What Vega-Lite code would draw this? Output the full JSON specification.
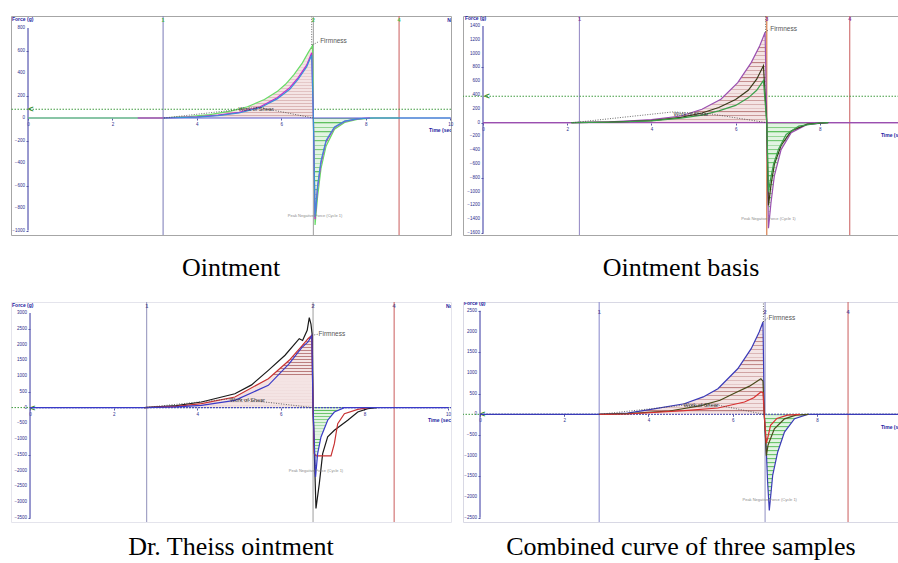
{
"$schema": "https://vega.github.io/schema/vega-lite/v6.json",
"padding": {"left": 10, "top": 14, "right": 0, "bottom": 0},
"background": "white",
"bounds": "flush",
"columns": 2,
"spacing": {"row": 67, "column": 12},
"params": [
  {"name": "posGrad", "value": {"gradient": "linear", "x1": 0, "y1": 0, "x2": 0, "y2": 1, "stops": [
      {"offset":0,"color":"#b97a7a"},{"offset":0.014,"color":"#f4e4e4"},{"offset":0.0417,"color":"#f4e4e4"},
      {"offset":0.0417,"color":"#b97a7a"},{"offset":0.0557,"color":"#f4e4e4"},{"offset":0.0833,"color":"#f4e4e4"},
      {"offset":0.0833,"color":"#b97a7a"},{"offset":0.0973,"color":"#f4e4e4"},{"offset":0.125,"color":"#f4e4e4"},
      {"offset":0.125,"color":"#b97a7a"},{"offset":0.139,"color":"#f4e4e4"},{"offset":0.1667,"color":"#f4e4e4"},
      {"offset":0.1667,"color":"#b97a7a"},{"offset":0.1807,"color":"#f4e4e4"},{"offset":0.2083,"color":"#f4e4e4"},
      {"offset":0.2083,"color":"#b97a7a"},{"offset":0.2223,"color":"#f4e4e4"},{"offset":0.25,"color":"#f4e4e4"},
      {"offset":0.25,"color":"#b97a7a"},{"offset":0.264,"color":"#f4e4e4"},{"offset":0.2917,"color":"#f4e4e4"},
      {"offset":0.2917,"color":"#b97a7a"},{"offset":0.3057,"color":"#f4e4e4"},{"offset":0.3333,"color":"#f4e4e4"},
      {"offset":0.3333,"color":"#b97a7a"},{"offset":0.3473,"color":"#f4e4e4"},{"offset":0.375,"color":"#f4e4e4"},
      {"offset":0.375,"color":"#b97a7a"},{"offset":0.389,"color":"#f4e4e4"},{"offset":0.4167,"color":"#f4e4e4"},
      {"offset":0.4167,"color":"#b97a7a"},{"offset":0.4307,"color":"#f4e4e4"},{"offset":0.4583,"color":"#f4e4e4"},
      {"offset":0.4583,"color":"#b97a7a"},{"offset":0.4723,"color":"#f4e4e4"},{"offset":0.5,"color":"#f4e4e4"},
      {"offset":0.5,"color":"#b97a7a"},{"offset":0.514,"color":"#f4e4e4"},{"offset":0.5417,"color":"#f4e4e4"},
      {"offset":0.5417,"color":"#b97a7a"},{"offset":0.5557,"color":"#f4e4e4"},{"offset":0.5833,"color":"#f4e4e4"},
      {"offset":0.5833,"color":"#b97a7a"},{"offset":0.5973,"color":"#f4e4e4"},{"offset":0.625,"color":"#f4e4e4"},
      {"offset":0.625,"color":"#b97a7a"},{"offset":0.639,"color":"#f4e4e4"},{"offset":0.6667,"color":"#f4e4e4"},
      {"offset":0.6667,"color":"#b97a7a"},{"offset":0.6807,"color":"#f4e4e4"},{"offset":0.7083,"color":"#f4e4e4"},
      {"offset":0.7083,"color":"#b97a7a"},{"offset":0.7223,"color":"#f4e4e4"},{"offset":0.75,"color":"#f4e4e4"},
      {"offset":0.75,"color":"#b97a7a"},{"offset":0.764,"color":"#f4e4e4"},{"offset":0.7917,"color":"#f4e4e4"},
      {"offset":0.7917,"color":"#b97a7a"},{"offset":0.8057,"color":"#f4e4e4"},{"offset":0.8333,"color":"#f4e4e4"},
      {"offset":0.8333,"color":"#b97a7a"},{"offset":0.8473,"color":"#f4e4e4"},{"offset":0.875,"color":"#f4e4e4"},
      {"offset":0.875,"color":"#b97a7a"},{"offset":0.889,"color":"#f4e4e4"},{"offset":0.9167,"color":"#f4e4e4"},
      {"offset":0.9167,"color":"#b97a7a"},{"offset":0.9307,"color":"#f4e4e4"},{"offset":0.9583,"color":"#f4e4e4"},
      {"offset":0.9583,"color":"#b97a7a"},{"offset":0.9723,"color":"#f4e4e4"},{"offset":1,"color":"#f4e4e4"}
  ]}},
  {"name": "negGrad", "value": {"gradient": "linear", "x1": 0, "y1": 0, "x2": 0, "y2": 1, "stops": [
      {"offset":0,"color":"#5cbf5c"},{"offset":0.014,"color":"#e2f4e2"},{"offset":0.0417,"color":"#e2f4e2"},
      {"offset":0.0417,"color":"#5cbf5c"},{"offset":0.0557,"color":"#e2f4e2"},{"offset":0.0833,"color":"#e2f4e2"},
      {"offset":0.0833,"color":"#5cbf5c"},{"offset":0.0973,"color":"#e2f4e2"},{"offset":0.125,"color":"#e2f4e2"},
      {"offset":0.125,"color":"#5cbf5c"},{"offset":0.139,"color":"#e2f4e2"},{"offset":0.1667,"color":"#e2f4e2"},
      {"offset":0.1667,"color":"#5cbf5c"},{"offset":0.1807,"color":"#e2f4e2"},{"offset":0.2083,"color":"#e2f4e2"},
      {"offset":0.2083,"color":"#5cbf5c"},{"offset":0.2223,"color":"#e2f4e2"},{"offset":0.25,"color":"#e2f4e2"},
      {"offset":0.25,"color":"#5cbf5c"},{"offset":0.264,"color":"#e2f4e2"},{"offset":0.2917,"color":"#e2f4e2"},
      {"offset":0.2917,"color":"#5cbf5c"},{"offset":0.3057,"color":"#e2f4e2"},{"offset":0.3333,"color":"#e2f4e2"},
      {"offset":0.3333,"color":"#5cbf5c"},{"offset":0.3473,"color":"#e2f4e2"},{"offset":0.375,"color":"#e2f4e2"},
      {"offset":0.375,"color":"#5cbf5c"},{"offset":0.389,"color":"#e2f4e2"},{"offset":0.4167,"color":"#e2f4e2"},
      {"offset":0.4167,"color":"#5cbf5c"},{"offset":0.4307,"color":"#e2f4e2"},{"offset":0.4583,"color":"#e2f4e2"},
      {"offset":0.4583,"color":"#5cbf5c"},{"offset":0.4723,"color":"#e2f4e2"},{"offset":0.5,"color":"#e2f4e2"},
      {"offset":0.5,"color":"#5cbf5c"},{"offset":0.514,"color":"#e2f4e2"},{"offset":0.5417,"color":"#e2f4e2"},
      {"offset":0.5417,"color":"#5cbf5c"},{"offset":0.5557,"color":"#e2f4e2"},{"offset":0.5833,"color":"#e2f4e2"},
      {"offset":0.5833,"color":"#5cbf5c"},{"offset":0.5973,"color":"#e2f4e2"},{"offset":0.625,"color":"#e2f4e2"},
      {"offset":0.625,"color":"#5cbf5c"},{"offset":0.639,"color":"#e2f4e2"},{"offset":0.6667,"color":"#e2f4e2"},
      {"offset":0.6667,"color":"#5cbf5c"},{"offset":0.6807,"color":"#e2f4e2"},{"offset":0.7083,"color":"#e2f4e2"},
      {"offset":0.7083,"color":"#5cbf5c"},{"offset":0.7223,"color":"#e2f4e2"},{"offset":0.75,"color":"#e2f4e2"},
      {"offset":0.75,"color":"#5cbf5c"},{"offset":0.764,"color":"#e2f4e2"},{"offset":0.7917,"color":"#e2f4e2"},
      {"offset":0.7917,"color":"#5cbf5c"},{"offset":0.8057,"color":"#e2f4e2"},{"offset":0.8333,"color":"#e2f4e2"},
      {"offset":0.8333,"color":"#5cbf5c"},{"offset":0.8473,"color":"#e2f4e2"},{"offset":0.875,"color":"#e2f4e2"},
      {"offset":0.875,"color":"#5cbf5c"},{"offset":0.889,"color":"#e2f4e2"},{"offset":0.9167,"color":"#e2f4e2"},
      {"offset":0.9167,"color":"#5cbf5c"},{"offset":0.9307,"color":"#e2f4e2"},{"offset":0.9583,"color":"#e2f4e2"},
      {"offset":0.9583,"color":"#5cbf5c"},{"offset":0.9723,"color":"#e2f4e2"},{"offset":1,"color":"#e2f4e2"}
  ]}}
],
"config": {
  "view": {"stroke": null},
  "font": "Liberation Sans",
  "axis": {"labelFont": "Liberation Sans", "labelFontSize": 4.5, "labelColor": "#2c2c8c", "tickColor": "#2c2c8c", "tickSize": 2, "tickWidth": 0.8, "labelPadding": 1, "domain": false, "grid": false, "labelFlush": false, "labelOverlap": false, "labelBound": false, "format": "d"},
  "title": {"font": "Liberation Serif", "fontSize": 26, "fontWeight": "normal", "color": "#000000", "orient": "bottom", "anchor": "middle"}
},
"datasets": {
  "tk": [
    {"p":"P1","v":-1000},{"p":"P1","v":-800},{"p":"P1","v":-600},{"p":"P1","v":-400},{"p":"P1","v":-200},{"p":"P1","v":0},{"p":"P1","v":200},{"p":"P1","v":400},{"p":"P1","v":600},{"p":"P1","v":800},
    {"p":"P2","v":-1600},{"p":"P2","v":-1400},{"p":"P2","v":-1200},{"p":"P2","v":-1000},{"p":"P2","v":-800},{"p":"P2","v":-600},{"p":"P2","v":-400},{"p":"P2","v":-200},{"p":"P2","v":0},{"p":"P2","v":200},{"p":"P2","v":400},{"p":"P2","v":600},{"p":"P2","v":800},{"p":"P2","v":1000},{"p":"P2","v":1200},{"p":"P2","v":1400},
    {"p":"P3","v":-3500},{"p":"P3","v":-3000},{"p":"P3","v":-2500},{"p":"P3","v":-2000},{"p":"P3","v":-1500},{"p":"P3","v":-1000},{"p":"P3","v":-500},{"p":"P3","v":0},{"p":"P3","v":500},{"p":"P3","v":1000},{"p":"P3","v":1500},{"p":"P3","v":2000},{"p":"P3","v":2500},{"p":"P3","v":3000},
    {"p":"P4","v":-2500},{"p":"P4","v":-2000},{"p":"P4","v":-1500},{"p":"P4","v":-1000},{"p":"P4","v":-500},{"p":"P4","v":0},{"p":"P4","v":500},{"p":"P4","v":1000},{"p":"P4","v":1500},{"p":"P4","v":2000},{"p":"P4","v":2500}
  ],
  "curves": [
    {"p":"P1","r":"A","t":0,"f":0},{"p":"P1","r":"A","t":2.6,"f":0},{"p":"P1","r":"A","t":3.2,"f":2},{"p":"P1","r":"A","t":3.8,"f":12},{"p":"P1","r":"A","t":4.3,"f":30},{"p":"P1","r":"A","t":4.8,"f":62},{"p":"P1","r":"A","t":5.2,"f":100},{"p":"P1","r":"A","t":5.6,"f":165},{"p":"P1","r":"A","t":5.9,"f":235},{"p":"P1","r":"A","t":6.1,"f":300},{"p":"P1","r":"A","t":6.3,"f":385},{"p":"P1","r":"A","t":6.5,"f":490},{"p":"P1","r":"A","t":6.65,"f":590},{"p":"P1","r":"A","t":6.74,"f":645},{"p":"P1","r":"A","t":6.76,"f":0},{"p":"P1","r":"A","t":6.8,"f":-950},{"p":"P1","r":"A","t":6.86,"f":-700},{"p":"P1","r":"A","t":6.94,"f":-450},{"p":"P1","r":"A","t":7.06,"f":-250},{"p":"P1","r":"A","t":7.26,"f":-100},{"p":"P1","r":"A","t":7.5,"f":-40},{"p":"P1","r":"A","t":7.8,"f":-12},{"p":"P1","r":"A","t":8.2,"f":0},{"p":"P1","r":"A","t":8.8,"f":0},
    {"p":"P1","r":"B","t":2.6,"f":0},{"p":"P1","r":"B","t":3.2,"f":1},{"p":"P1","r":"B","t":4.0,"f":10},{"p":"P1","r":"B","t":4.5,"f":25},{"p":"P1","r":"B","t":5.0,"f":50},{"p":"P1","r":"B","t":5.5,"f":100},{"p":"P1","r":"B","t":5.9,"f":180},{"p":"P1","r":"B","t":6.2,"f":270},{"p":"P1","r":"B","t":6.4,"f":360},{"p":"P1","r":"B","t":6.6,"f":470},{"p":"P1","r":"B","t":6.72,"f":580},{"p":"P1","r":"B","t":6.76,"f":0},{"p":"P1","r":"B","t":6.8,"f":-900},{"p":"P1","r":"B","t":6.86,"f":-620},{"p":"P1","r":"B","t":6.94,"f":-400},{"p":"P1","r":"B","t":7.06,"f":-210},{"p":"P1","r":"B","t":7.26,"f":-85},{"p":"P1","r":"B","t":7.5,"f":-30},{"p":"P1","r":"B","t":7.8,"f":-8},{"p":"P1","r":"B","t":8.1,"f":0},
    {"p":"P1","r":"C","t":3.2,"f":0},{"p":"P1","r":"C","t":4.0,"f":8},{"p":"P1","r":"C","t":4.5,"f":22},{"p":"P1","r":"C","t":5.0,"f":45},{"p":"P1","r":"C","t":5.5,"f":92},{"p":"P1","r":"C","t":5.9,"f":170},{"p":"P1","r":"C","t":6.2,"f":255},{"p":"P1","r":"C","t":6.4,"f":345},{"p":"P1","r":"C","t":6.6,"f":455},{"p":"P1","r":"C","t":6.72,"f":560},{"p":"P1","r":"C","t":6.76,"f":0},{"p":"P1","r":"C","t":6.8,"f":-880},{"p":"P1","r":"C","t":6.86,"f":-600},{"p":"P1","r":"C","t":6.94,"f":-380},{"p":"P1","r":"C","t":7.06,"f":-200},{"p":"P1","r":"C","t":7.26,"f":-80},{"p":"P1","r":"C","t":7.5,"f":-28},{"p":"P1","r":"C","t":7.8,"f":-8},{"p":"P1","r":"C","t":8.1,"f":0},{"p":"P1","r":"C","t":10,"f":0},
    {"p":"P2","r":"A","t":0,"f":0},{"p":"P2","r":"A","t":2.1,"f":0},{"p":"P2","r":"A","t":3.0,"f":12},{"p":"P2","r":"A","t":3.6,"f":30},{"p":"P2","r":"A","t":4.0,"f":45},{"p":"P2","r":"A","t":4.7,"f":97},{"p":"P2","r":"A","t":5.2,"f":195},{"p":"P2","r":"A","t":5.65,"f":340},{"p":"P2","r":"A","t":6.05,"f":580},{"p":"P2","r":"A","t":6.37,"f":870},{"p":"P2","r":"A","t":6.57,"f":1110},{"p":"P2","r":"A","t":6.7,"f":1310},{"p":"P2","r":"A","t":6.74,"f":0},{"p":"P2","r":"A","t":6.78,"f":-1530},{"p":"P2","r":"A","t":6.84,"f":-1160},{"p":"P2","r":"A","t":6.92,"f":-770},{"p":"P2","r":"A","t":7.08,"f":-390},{"p":"P2","r":"A","t":7.32,"f":-145},{"p":"P2","r":"A","t":7.7,"f":-25},{"p":"P2","r":"A","t":8.2,"f":0},{"p":"P2","r":"A","t":9.9,"f":0},
    {"p":"P2","r":"B","t":2.1,"f":0},{"p":"P2","r":"B","t":3.0,"f":8},{"p":"P2","r":"B","t":4.0,"f":30},{"p":"P2","r":"B","t":4.7,"f":78},{"p":"P2","r":"B","t":5.2,"f":140},{"p":"P2","r":"B","t":5.6,"f":220},{"p":"P2","r":"B","t":6.0,"f":335},{"p":"P2","r":"B","t":6.3,"f":470},{"p":"P2","r":"B","t":6.5,"f":630},{"p":"P2","r":"B","t":6.66,"f":825},{"p":"P2","r":"B","t":6.74,"f":0},{"p":"P2","r":"B","t":6.78,"f":-1200},{"p":"P2","r":"B","t":6.84,"f":-900},{"p":"P2","r":"B","t":6.92,"f":-600},{"p":"P2","r":"B","t":7.08,"f":-330},{"p":"P2","r":"B","t":7.32,"f":-120},{"p":"P2","r":"B","t":7.7,"f":-22},{"p":"P2","r":"B","t":8.2,"f":0},
    {"p":"P2","r":"C","t":2.1,"f":0},{"p":"P2","r":"C","t":3.0,"f":6},{"p":"P2","r":"C","t":4.0,"f":25},{"p":"P2","r":"C","t":4.7,"f":65},{"p":"P2","r":"C","t":5.2,"f":110},{"p":"P2","r":"C","t":5.6,"f":170},{"p":"P2","r":"C","t":6.0,"f":250},{"p":"P2","r":"C","t":6.3,"f":360},{"p":"P2","r":"C","t":6.5,"f":470},{"p":"P2","r":"C","t":6.66,"f":610},{"p":"P2","r":"C","t":6.74,"f":0},{"p":"P2","r":"C","t":6.78,"f":-1000},{"p":"P2","r":"C","t":6.82,"f":-850},{"p":"P2","r":"C","t":6.9,"f":-600},{"p":"P2","r":"C","t":7.02,"f":-380},{"p":"P2","r":"C","t":7.2,"f":-170},{"p":"P2","r":"C","t":7.5,"f":-50},{"p":"P2","r":"C","t":8.0,"f":-5},{"p":"P2","r":"C","t":8.2,"f":0},
    {"p":"P3","r":"A","t":2.73,"f":0},{"p":"P3","r":"A","t":3.5,"f":60},{"p":"P3","r":"A","t":4.1,"f":178},{"p":"P3","r":"A","t":4.9,"f":440},{"p":"P3","r":"A","t":5.3,"f":720},{"p":"P3","r":"A","t":5.7,"f":1180},{"p":"P3","r":"A","t":6.1,"f":1660},{"p":"P3","r":"A","t":6.44,"f":2185},{"p":"P3","r":"A","t":6.52,"f":2130},{"p":"P3","r":"A","t":6.63,"f":2450},{"p":"P3","r":"A","t":6.68,"f":2850},{"p":"P3","r":"A","t":6.72,"f":2650},{"p":"P3","r":"A","t":6.75,"f":2300},{"p":"P3","r":"A","t":6.77,"f":0},{"p":"P3","r":"A","t":6.84,"f":-3200},{"p":"P3","r":"A","t":6.92,"f":-2410},{"p":"P3","r":"A","t":7.0,"f":-1460},{"p":"P3","r":"A","t":7.12,"f":-930},{"p":"P3","r":"A","t":7.28,"f":-720},{"p":"P3","r":"A","t":7.6,"f":-400},{"p":"P3","r":"A","t":7.84,"f":-140},{"p":"P3","r":"A","t":8.08,"f":-35},{"p":"P3","r":"A","t":8.3,"f":0},
    {"p":"P3","r":"B","t":2.73,"f":0},{"p":"P3","r":"B","t":3.5,"f":40},{"p":"P3","r":"B","t":4.1,"f":125},{"p":"P3","r":"B","t":4.9,"f":336},{"p":"P3","r":"B","t":5.7,"f":917},{"p":"P3","r":"B","t":6.2,"f":1500},{"p":"P3","r":"B","t":6.5,"f":1950},{"p":"P3","r":"B","t":6.65,"f":2185},{"p":"P3","r":"B","t":6.74,"f":2290},{"p":"P3","r":"B","t":6.77,"f":0},{"p":"P3","r":"B","t":6.8,"f":-1460},{"p":"P3","r":"B","t":6.84,"f":-1530},{"p":"P3","r":"B","t":7.2,"f":-1530},{"p":"P3","r":"B","t":7.28,"f":-1145},{"p":"P3","r":"B","t":7.36,"f":-510},{"p":"P3","r":"B","t":7.52,"f":-193},{"p":"P3","r":"B","t":7.84,"f":-55},{"p":"P3","r":"B","t":8.1,"f":0},
    {"p":"P3","r":"C","t":0,"f":0},{"p":"P3","r":"C","t":2.73,"f":0},{"p":"P3","r":"C","t":3.5,"f":20},{"p":"P3","r":"C","t":4.1,"f":70},{"p":"P3","r":"C","t":4.9,"f":231},{"p":"P3","r":"C","t":5.7,"f":707},{"p":"P3","r":"C","t":6.2,"f":1392},{"p":"P3","r":"C","t":6.5,"f":1900},{"p":"P3","r":"C","t":6.65,"f":2080},{"p":"P3","r":"C","t":6.74,"f":2290},{"p":"P3","r":"C","t":6.77,"f":0},{"p":"P3","r":"C","t":6.83,"f":-2200},{"p":"P3","r":"C","t":6.88,"f":-1460},{"p":"P3","r":"C","t":6.96,"f":-930},{"p":"P3","r":"C","t":7.12,"f":-400},{"p":"P3","r":"C","t":7.28,"f":-140},{"p":"P3","r":"C","t":7.52,"f":0},{"p":"P3","r":"C","t":10,"f":0},
    {"p":"P4","r":"A","t":0,"f":0},{"p":"P4","r":"A","t":2.83,"f":0},{"p":"P4","r":"A","t":3.5,"f":30},{"p":"P4","r":"A","t":4.06,"f":120},{"p":"P4","r":"A","t":4.85,"f":256},{"p":"P4","r":"A","t":5.3,"f":420},{"p":"P4","r":"A","t":5.65,"f":620},{"p":"P4","r":"A","t":6.12,"f":1100},{"p":"P4","r":"A","t":6.44,"f":1585},{"p":"P4","r":"A","t":6.63,"f":1990},{"p":"P4","r":"A","t":6.72,"f":2230},{"p":"P4","r":"A","t":6.75,"f":0},{"p":"P4","r":"A","t":6.8,"f":-900},{"p":"P4","r":"A","t":6.83,"f":-1635},{"p":"P4","r":"A","t":6.87,"f":-2320},{"p":"P4","r":"A","t":6.91,"f":-1900},{"p":"P4","r":"A","t":6.95,"f":-1475},{"p":"P4","r":"A","t":7.07,"f":-910},{"p":"P4","r":"A","t":7.23,"f":-428},{"p":"P4","r":"A","t":7.47,"f":-106},{"p":"P4","r":"A","t":7.78,"f":0},{"p":"P4","r":"A","t":9.95,"f":0},
    {"p":"P4","r":"B","t":2.83,"f":0},{"p":"P4","r":"B","t":3.5,"f":15},{"p":"P4","r":"B","t":4.5,"f":80},{"p":"P4","r":"B","t":5.25,"f":210},{"p":"P4","r":"B","t":5.7,"f":340},{"p":"P4","r":"B","t":6.04,"f":510},{"p":"P4","r":"B","t":6.4,"f":680},{"p":"P4","r":"B","t":6.67,"f":860},{"p":"P4","r":"B","t":6.72,"f":800},{"p":"P4","r":"B","t":6.75,"f":0},{"p":"P4","r":"B","t":6.8,"f":-1000},{"p":"P4","r":"B","t":6.84,"f":-742},{"p":"P4","r":"B","t":6.99,"f":-348},{"p":"P4","r":"B","t":7.23,"f":-110},{"p":"P4","r":"B","t":7.5,"f":-20},{"p":"P4","r":"B","t":7.8,"f":0},
    {"p":"P4","r":"C","t":2.83,"f":0},{"p":"P4","r":"C","t":3.5,"f":8},{"p":"P4","r":"C","t":4.85,"f":87},{"p":"P4","r":"C","t":5.65,"f":152},{"p":"P4","r":"C","t":6.28,"f":297},{"p":"P4","r":"C","t":6.5,"f":400},{"p":"P4","r":"C","t":6.67,"f":540},{"p":"P4","r":"C","t":6.72,"f":520},{"p":"P4","r":"C","t":6.75,"f":0},{"p":"P4","r":"C","t":6.8,"f":-700},{"p":"P4","r":"C","t":6.83,"f":-580},{"p":"P4","r":"C","t":6.9,"f":-266},{"p":"P4","r":"C","t":7.05,"f":-100},{"p":"P4","r":"C","t":7.3,"f":-20},{"p":"P4","r":"C","t":7.6,"f":0}
  ],
  "mk": [
    {"p":"P1","m":"1","t":3.2},{"p":"P1","m":"2","t":6.76},{"p":"P1","m":"4","t":8.79},
    {"p":"P2","m":"1","t":2.29},{"p":"P2","m":"3","t":6.74},{"p":"P2","m":"4","t":8.71},
    {"p":"P3","m":"1","t":2.79},{"p":"P3","m":"2","t":6.77},{"p":"P3","m":"4","t":8.71},
    {"p":"P4","m":"1","t":2.83},{"p":"P4","m":"2","t":6.77},{"p":"P4","m":"4","t":8.74}
  ],
  "gd": [
    {"p":"P1","g":"w","t":3.22,"f":0},{"p":"P1","g":"w","t":5.44,"f":95},{"p":"P1","g":"w","t":5.6,"f":85},{"p":"P1","g":"w","t":6.76,"f":0},
    {"p":"P1","g":"f","t":6.74,"f":650},{"p":"P1","g":"f","t":6.9,"f":682},
    {"p":"P1","g":"v","t":6.72,"f":650},{"p":"P1","g":"v","t":6.72,"f":900},
    {"p":"P2","g":"w","t":2.13,"f":0},{"p":"P2","g":"w","t":4.5,"f":155},{"p":"P2","g":"w","t":5.38,"f":130},{"p":"P2","g":"w","t":6.74,"f":0},
    {"p":"P2","g":"f","t":6.7,"f":1310},{"p":"P2","g":"f","t":6.8,"f":1353},
    {"p":"P2","g":"v","t":6.71,"f":1310},{"p":"P2","g":"v","t":6.71,"f":1540},
    {"p":"P3","g":"w","t":2.73,"f":0},{"p":"P3","g":"w","t":4.81,"f":282},{"p":"P3","g":"w","t":5.6,"f":180},{"p":"P3","g":"w","t":6.77,"f":0},
    {"p":"P3","g":"f","t":6.74,"f":2290},{"p":"P3","g":"f","t":6.88,"f":2324},
    {"p":"P4","g":"w","t":2.83,"f":0},{"p":"P4","g":"w","t":4.81,"f":217},{"p":"P4","g":"w","t":5.68,"f":217},{"p":"P4","g":"w","t":6.75,"f":0},
    {"p":"P4","g":"f","t":6.72,"f":2230},{"p":"P4","g":"f","t":6.83,"f":2326},
    {"p":"P4","g":"v","t":6.73,"f":2230},{"p":"P4","g":"v","t":6.73,"f":2700}
  ],
  "nt": [
    {"p":"P1","k":"bl","t":-0.38,"f":880,"s":"Force (g)"},{"p":"P1","k":"bl","t":9.5,"f":-107,"s":"Time (sec)"},{"p":"P1","k":"bl","t":9.93,"f":871,"s":"None"},
    {"p":"P1","k":"wos","t":5.4,"f":80,"s":"Work of Shear"},{"p":"P1","k":"firm","t":6.92,"f":682,"s":"Firmness"},{"p":"P1","k":"pk","t":6.8,"f":-874,"s":"Peak Negative Force (Cycle 1)"},
    {"p":"P2","k":"bl","t":-0.43,"f":1517,"s":"Force (g)"},{"p":"P2","k":"bl","t":9.45,"f":-178,"s":"Time (sec)"},
    {"p":"P2","k":"wos","t":4.94,"f":130,"s":"Work of Shear"},{"p":"P2","k":"firm","t":6.82,"f":1353,"s":"Firmness"},{"p":"P2","k":"pk","t":6.78,"f":-1400,"s":"Peak Negative Force (Cycle 1)"},
    {"p":"P3","k":"bl","t":-0.43,"f":3253,"s":"Force (g)"},{"p":"P3","k":"bl","t":9.52,"f":-393,"s":"Time (sec)"},{"p":"P3","k":"bl","t":9.95,"f":3221,"s":"None"},
    {"p":"P3","k":"wos","t":5.2,"f":231,"s":"Work of Shear"},{"p":"P3","k":"firm","t":6.9,"f":2324,"s":"Firmness"},{"p":"P3","k":"pk","t":6.84,"f":-2010,"s":"Peak Negative Force (Cycle 1)"},
    {"p":"P4","k":"bl","t":-0.38,"f":2688,"s":"Force (g)"},{"p":"P4","k":"bl","t":9.52,"f":-307,"s":"Time (sec)"},
    {"p":"P4","k":"wos","t":5.25,"f":217,"s":"Work of Shear"},{"p":"P4","k":"firm","t":6.85,"f":2326,"s":"Firmness"},{"p":"P4","k":"pk","t":6.88,"f":-2063,"s":"Peak Negative Force (Cycle 1)"}
  ]
},
"resolve": {"scale": {"color": "independent"}},
"concat": [
  {"width": 440, "height": 219, "view": {"stroke": "#a6a6a6", "strokeWidth": 1},
   "title": {"text": "Ointment", "offset": 19},
   "layer": [
    {"data": {"values": [{}]}, "mark": {"type": "rule", "color": "#5656b0", "strokeWidth": 1.2},
     "encoding": {
      "x": {"datum": 0, "type": "quantitative", "scale": {"domain": [-0.403, 10.02], "nice": false, "zero": false}, "axis": {"values": [0,2,4,6,8,10], "offset": -117, "title": null}},
      "y": {"datum": -1000, "type": "quantitative", "scale": {"domain": [-1040, 907], "nice": false, "zero": false}, "axis": {"values": [-1000,-800,-600,-400,-200,0,200,400,600,800], "offset": -17, "title": null, "labels": false}},
      "y2": {"datum": 800}}},
    {"data": {"name": "tk"}, "transform": [{"filter": "datum.p=='P1'"}], "mark": {"type": "text", "color": "#2c2c8c", "fontSize": 4.5, "align": "right", "baseline": "middle", "dx": -3},
     "encoding": {"x": {"datum": 0}, "y": {"field": "v", "type": "quantitative"}, "text": {"field": "v", "type": "quantitative", "format": "d"}}},
    {"data": {"name": "mk"}, "transform": [{"filter": "datum.p=='P1'"}], "mark": {"type": "rule", "strokeWidth": 1.1},
     "encoding": {"x": {"field": "t", "type": "quantitative"}, "color": {"condition": [{"test": "datum.m=='1'", "value": "#8585bd"}, {"test": "datum.m=='4'", "value": "#cf6b6b"}], "value": "#a6a6a6"}}},
    {"data": {"name": "mk"}, "transform": [{"filter": "datum.p=='P1'"}], "mark": {"type": "text", "color": "#44bb44", "fontSize": 5.5, "fontWeight": "bold", "align": "center", "baseline": "middle"},
     "encoding": {"x": {"field": "t", "type": "quantitative"}, "y": {"datum": 871}, "text": {"field": "m"}}},
    {"data": {"values": [{}]}, "mark": {"type": "rule", "color": "#3d9a3d", "strokeDash": [1.5, 1.5], "strokeWidth": 1}, "encoding": {"y": {"datum": 78}}},
    {"data": {"values": [{}]}, "mark": {"type": "text", "text": "<", "color": "#2e8b2e", "fontWeight": "bold", "fontSize": 9, "align": "center", "baseline": "middle"}, "encoding": {"x": {"datum": 0.07}, "y": {"datum": 78}}},
    {"data": {"name": "curves"}, "transform": [{"filter": "datum.p=='P1' && datum.r=='A' && datum.t<=6.76"}], "mark": {"type": "area", "fill": {"expr": "posGrad"}, "fillOpacity": 1},
     "encoding": {"x": {"field": "t", "type": "quantitative"}, "y": {"field": "f", "type": "quantitative"}, "y2": {"datum": 0}}},
    {"data": {"name": "curves"}, "transform": [{"filter": "datum.p=='P1' && datum.r=='A' && datum.t>=6.76"}], "mark": {"type": "area", "fill": {"expr": "negGrad"}, "fillOpacity": 1},
     "encoding": {"x": {"field": "t", "type": "quantitative"}, "y": {"field": "f", "type": "quantitative"}, "y2": {"datum": 0}}},
    {"data": {"values": [{}]}, "mark": {"type": "rule", "color": "#5a5ad0", "strokeWidth": 1.2}, "encoding": {"x": {"datum": 0}, "x2": {"datum": 10.02}, "y": {"datum": 0}}},
    {"data": {"name": "curves"}, "transform": [{"filter": "datum.p=='P1'"}], "mark": {"type": "line", "strokeWidth": 1.2},
     "encoding": {"x": {"field": "t", "type": "quantitative"}, "y": {"field": "f", "type": "quantitative"}, "color": {"field": "r", "type": "nominal", "scale": {"domain": ["A","B","C"], "range": ["#66dd66","#cc22cc","#3a8fd8"]}, "legend": null}}},
    {"data": {"name": "gd"}, "transform": [{"filter": "datum.p=='P1'"}], "mark": {"type": "line", "color": "#444444", "strokeWidth": 0.8, "strokeDash": [1, 1.5]},
     "encoding": {"x": {"field": "t", "type": "quantitative"}, "y": {"field": "f", "type": "quantitative"}, "detail": {"field": "g"}}},
    {"data": {"name": "nt"}, "transform": [{"filter": "datum.p=='P1' && datum.k=='bl'"}], "mark": {"type": "text", "clip": true, "color": "#2222a0", "fontSize": 5, "fontWeight": "bold", "align": "left", "baseline": "middle"},
     "encoding": {"x": {"field": "t", "type": "quantitative"}, "y": {"field": "f", "type": "quantitative"}, "text": {"field": "s"}}},
    {"data": {"name": "nt"}, "transform": [{"filter": "datum.p=='P1' && datum.k=='wos'"}], "mark": {"type": "text", "color": "#3a3a3a", "fontSize": 5.5, "align": "center", "baseline": "middle"},
     "encoding": {"x": {"field": "t", "type": "quantitative"}, "y": {"field": "f", "type": "quantitative"}, "text": {"field": "s"}}},
    {"data": {"name": "nt"}, "transform": [{"filter": "datum.p=='P1' && datum.k=='firm'"}], "mark": {"type": "text", "color": "#555555", "fontSize": 6.5, "align": "left", "baseline": "middle"},
     "encoding": {"x": {"field": "t", "type": "quantitative"}, "y": {"field": "f", "type": "quantitative"}, "text": {"field": "s"}}},
    {"data": {"name": "nt"}, "transform": [{"filter": "datum.p=='P1' && datum.k=='pk'"}], "mark": {"type": "text", "color": "#8c8c8c", "fontSize": 4, "align": "center", "baseline": "middle"},
     "encoding": {"x": {"field": "t", "type": "quantitative"}, "y": {"field": "f", "type": "quantitative"}, "text": {"field": "s"}}}
   ]},
  {"width": 436, "height": 219, "view": {"stroke": "#a6a6a6", "strokeWidth": 1},
   "title": {"text": "Ointment basis", "offset": 19},
   "layer": [
    {"data": {"values": [{}]}, "mark": {"type": "rule", "color": "#5656b0", "strokeWidth": 1.2},
     "encoding": {
      "x": {"datum": 0, "type": "quantitative", "scale": {"domain": [-0.475, 9.88], "nice": false, "zero": false}, "axis": {"values": [0,2,4,6,8], "offset": -112, "title": null}},
      "y": {"datum": -1600, "type": "quantitative", "scale": {"domain": [-1628, 1546], "nice": false, "zero": false}, "axis": {"values": [-1600,-1400,-1200,-1000,-800,-600,-400,-200,0,200,400,600,800,1000,1200,1400], "offset": -20, "title": null, "labels": false}},
      "y2": {"datum": 1400}}},
    {"data": {"name": "tk"}, "transform": [{"filter": "datum.p=='P2'"}], "mark": {"type": "text", "color": "#2c2c8c", "fontSize": 4.5, "align": "right", "baseline": "middle", "dx": -3},
     "encoding": {"x": {"datum": 0}, "y": {"field": "v", "type": "quantitative"}, "text": {"field": "v", "type": "quantitative", "format": "d"}}},
    {"data": {"name": "mk"}, "transform": [{"filter": "datum.p=='P2'"}], "mark": {"type": "rule", "strokeWidth": 1.1},
     "encoding": {"x": {"field": "t", "type": "quantitative"}, "color": {"condition": [{"test": "datum.m=='1'", "value": "#9a90c8"}, {"test": "datum.m=='4'", "value": "#cf6b6b"}], "value": "#d4703a"}}},
    {"data": {"name": "mk"}, "transform": [{"filter": "datum.p=='P2'"}], "mark": {"type": "text", "color": "#8a3a9a", "fontSize": 5.5, "fontWeight": "bold", "align": "center", "baseline": "middle"},
     "encoding": {"x": {"field": "t", "type": "quantitative"}, "y": {"datum": 1503}, "text": {"field": "m"}}},
    {"data": {"values": [{}]}, "mark": {"type": "rule", "color": "#3d9a3d", "strokeDash": [1.5, 1.5], "strokeWidth": 1}, "encoding": {"y": {"datum": 383}}},
    {"data": {"values": [{}]}, "mark": {"type": "text", "text": "<", "color": "#2e8b2e", "fontWeight": "bold", "fontSize": 9, "align": "center", "baseline": "middle"}, "encoding": {"x": {"datum": 0.1}, "y": {"datum": 383}}},
    {"data": {"name": "curves"}, "transform": [{"filter": "datum.p=='P2' && datum.r=='A' && datum.t<=6.74"}], "mark": {"type": "area", "fill": {"expr": "posGrad"}, "fillOpacity": 1},
     "encoding": {"x": {"field": "t", "type": "quantitative"}, "y": {"field": "f", "type": "quantitative"}, "y2": {"datum": 0}}},
    {"data": {"name": "curves"}, "transform": [{"filter": "datum.p=='P2' && datum.r=='A' && datum.t>=6.74"}], "mark": {"type": "area", "fill": {"expr": "negGrad"}, "fillOpacity": 1},
     "encoding": {"x": {"field": "t", "type": "quantitative"}, "y": {"field": "f", "type": "quantitative"}, "y2": {"datum": 0}}},
    {"data": {"values": [{}]}, "mark": {"type": "rule", "color": "#a050b0", "strokeWidth": 1.2}, "encoding": {"x": {"datum": 0}, "x2": {"datum": 9.88}, "y": {"datum": 0}}},
    {"data": {"name": "curves"}, "transform": [{"filter": "datum.p=='P2'"}], "mark": {"type": "line", "strokeWidth": 1.2},
     "encoding": {"x": {"field": "t", "type": "quantitative"}, "y": {"field": "f", "type": "quantitative"}, "color": {"field": "r", "type": "nominal", "scale": {"domain": ["A","B","C"], "range": ["#9a4fb0","#3a3a1a","#3aa04a"]}, "legend": null}}},
    {"data": {"name": "gd"}, "transform": [{"filter": "datum.p=='P2'"}], "mark": {"type": "line", "color": "#444444", "strokeWidth": 0.8, "strokeDash": [1, 1.5]},
     "encoding": {"x": {"field": "t", "type": "quantitative"}, "y": {"field": "f", "type": "quantitative"}, "detail": {"field": "g"}}},
    {"data": {"name": "nt"}, "transform": [{"filter": "datum.p=='P2' && datum.k=='bl'"}], "mark": {"type": "text", "clip": true, "color": "#2222a0", "fontSize": 5, "fontWeight": "bold", "align": "left", "baseline": "middle"},
     "encoding": {"x": {"field": "t", "type": "quantitative"}, "y": {"field": "f", "type": "quantitative"}, "text": {"field": "s"}}},
    {"data": {"name": "nt"}, "transform": [{"filter": "datum.p=='P2' && datum.k=='wos'"}], "mark": {"type": "text", "color": "#3a3a3a", "fontSize": 5.5, "align": "center", "baseline": "middle"},
     "encoding": {"x": {"field": "t", "type": "quantitative"}, "y": {"field": "f", "type": "quantitative"}, "text": {"field": "s"}}},
    {"data": {"name": "nt"}, "transform": [{"filter": "datum.p=='P2' && datum.k=='firm'"}], "mark": {"type": "text", "color": "#555555", "fontSize": 6.5, "align": "left", "baseline": "middle"},
     "encoding": {"x": {"field": "t", "type": "quantitative"}, "y": {"field": "f", "type": "quantitative"}, "text": {"field": "s"}}},
    {"data": {"name": "nt"}, "transform": [{"filter": "datum.p=='P2' && datum.k=='pk'"}], "mark": {"type": "text", "color": "#8c8c8c", "fontSize": 4, "align": "center", "baseline": "middle"},
     "encoding": {"x": {"field": "t", "type": "quantitative"}, "y": {"field": "f", "type": "quantitative"}, "text": {"field": "s"}}}
   ]},
  {"width": 440, "height": 220, "view": {"stroke": "#e4e4ec", "strokeWidth": 1},
   "title": {"text": "Dr. Theiss ointment", "offset": 11},
   "layer": [
    {"data": {"values": [{}]}, "mark": {"type": "rule", "color": "#5656b0", "strokeWidth": 1.2},
     "encoding": {
      "x": {"datum": 0, "type": "quantitative", "scale": {"domain": [-0.455, 10.07], "nice": false, "zero": false}, "axis": {"values": [0,2,4,6,8,10], "offset": -114, "title": null}},
      "y": {"datum": -3500, "type": "quantitative", "scale": {"domain": [-3627, 3348], "nice": false, "zero": false}, "axis": {"values": [-3500,-3000,-2500,-2000,-1500,-1000,-500,0,500,1000,1500,2000,2500,3000], "offset": -19, "title": null, "labels": false}},
      "y2": {"datum": 3000}}},
    {"data": {"name": "tk"}, "transform": [{"filter": "datum.p=='P3'"}], "mark": {"type": "text", "color": "#2c2c8c", "fontSize": 4.5, "align": "right", "baseline": "middle", "dx": -3},
     "encoding": {"x": {"datum": 0}, "y": {"field": "v", "type": "quantitative"}, "text": {"field": "v", "type": "quantitative", "format": "d"}}},
    {"data": {"name": "mk"}, "transform": [{"filter": "datum.p=='P3'"}], "mark": {"type": "rule", "strokeWidth": 1.1},
     "encoding": {"x": {"field": "t", "type": "quantitative"}, "color": {"condition": [{"test": "datum.m=='1'", "value": "#9a9ac0"}, {"test": "datum.m=='4'", "value": "#cf6b6b"}], "value": "#a6a6a6"}}},
    {"data": {"name": "mk"}, "transform": [{"filter": "datum.p=='P3'"}], "mark": {"type": "text", "color": "#5a4a8a", "fontSize": 5.5, "fontWeight": "bold", "align": "center", "baseline": "middle"},
     "encoding": {"x": {"field": "t", "type": "quantitative"}, "y": {"datum": 3221}, "text": {"field": "m"}}},
    {"data": {"values": [{}]}, "mark": {"type": "rule", "color": "#3d9a3d", "strokeDash": [1.5, 1.5], "strokeWidth": 1}, "encoding": {"y": {"datum": 0}}},
    {"data": {"values": [{}]}, "mark": {"type": "text", "text": "<", "color": "#2e8b2e", "fontWeight": "bold", "fontSize": 9, "align": "center", "baseline": "middle"}, "encoding": {"x": {"datum": 0.06}, "y": {"datum": 0}}},
    {"data": {"name": "curves"}, "transform": [{"filter": "datum.p=='P3' && datum.r=='B' && datum.t<=6.77"}], "mark": {"type": "area", "fill": {"expr": "posGrad"}, "fillOpacity": 1},
     "encoding": {"x": {"field": "t", "type": "quantitative"}, "y": {"field": "f", "type": "quantitative"}, "y2": {"datum": 0}}},
    {"data": {"name": "curves"}, "transform": [{"filter": "datum.p=='P3' && datum.r=='C' && datum.t>=6.77"}], "mark": {"type": "area", "fill": {"expr": "negGrad"}, "fillOpacity": 1},
     "encoding": {"x": {"field": "t", "type": "quantitative"}, "y": {"field": "f", "type": "quantitative"}, "y2": {"datum": 0}}},
    {"data": {"values": [{}]}, "mark": {"type": "rule", "color": "#4a4ac0", "strokeWidth": 1.2, "strokeDash": [2, 1]}, "encoding": {"x": {"datum": 0}, "x2": {"datum": 10.07}, "y": {"datum": 0}}},
    {"data": {"name": "curves"}, "transform": [{"filter": "datum.p=='P3'"}], "mark": {"type": "line", "strokeWidth": 1.2},
     "encoding": {"x": {"field": "t", "type": "quantitative"}, "y": {"field": "f", "type": "quantitative"}, "color": {"field": "r", "type": "nominal", "scale": {"domain": ["A","B","C"], "range": ["#1a1a1a","#c83232","#3a3ac8"]}, "legend": null}}},
    {"data": {"name": "gd"}, "transform": [{"filter": "datum.p=='P3'"}], "mark": {"type": "line", "color": "#444444", "strokeWidth": 0.8, "strokeDash": [1, 1.5]},
     "encoding": {"x": {"field": "t", "type": "quantitative"}, "y": {"field": "f", "type": "quantitative"}, "detail": {"field": "g"}}},
    {"data": {"name": "nt"}, "transform": [{"filter": "datum.p=='P3' && datum.k=='bl'"}], "mark": {"type": "text", "clip": true, "color": "#2222a0", "fontSize": 5, "fontWeight": "bold", "align": "left", "baseline": "middle"},
     "encoding": {"x": {"field": "t", "type": "quantitative"}, "y": {"field": "f", "type": "quantitative"}, "text": {"field": "s"}}},
    {"data": {"name": "nt"}, "transform": [{"filter": "datum.p=='P3' && datum.k=='wos'"}], "mark": {"type": "text", "color": "#3a3a3a", "fontSize": 5.5, "align": "center", "baseline": "middle"},
     "encoding": {"x": {"field": "t", "type": "quantitative"}, "y": {"field": "f", "type": "quantitative"}, "text": {"field": "s"}}},
    {"data": {"name": "nt"}, "transform": [{"filter": "datum.p=='P3' && datum.k=='firm'"}], "mark": {"type": "text", "color": "#555555", "fontSize": 6.5, "align": "left", "baseline": "middle"},
     "encoding": {"x": {"field": "t", "type": "quantitative"}, "y": {"field": "f", "type": "quantitative"}, "text": {"field": "s"}}},
    {"data": {"name": "nt"}, "transform": [{"filter": "datum.p=='P3' && datum.k=='pk'"}], "mark": {"type": "text", "color": "#8c8c8c", "fontSize": 4, "align": "center", "baseline": "middle"},
     "encoding": {"x": {"field": "t", "type": "quantitative"}, "y": {"field": "f", "type": "quantitative"}, "text": {"field": "s"}}}
   ]},
  {"width": 436, "height": 220, "view": {"stroke": "#d8d8e4", "strokeWidth": 1},
   "title": {"text": "Combined curve of three samples", "offset": 11},
   "layer": [
    {"data": {"values": [{}]}, "mark": {"type": "rule", "color": "#5656b0", "strokeWidth": 1.2},
     "encoding": {
      "x": {"datum": 0, "type": "quantitative", "scale": {"domain": [-0.404, 9.95], "nice": false, "zero": false}, "axis": {"values": [0,2,4,6,8], "offset": -107.7, "title": null}},
      "y": {"datum": -2500, "type": "quantitative", "scale": {"domain": [-2601, 2713], "nice": false, "zero": false}, "axis": {"values": [-2500,-2000,-1500,-1000,-500,0,500,1000,1500,2000,2500], "offset": -17, "title": null, "labels": false}},
      "y2": {"datum": 2500}}},
    {"data": {"name": "tk"}, "transform": [{"filter": "datum.p=='P4'"}], "mark": {"type": "text", "color": "#2c2c8c", "fontSize": 4.5, "align": "right", "baseline": "middle", "dx": -3},
     "encoding": {"x": {"datum": 0}, "y": {"field": "v", "type": "quantitative"}, "text": {"field": "v", "type": "quantitative", "format": "d"}}},
    {"data": {"name": "mk"}, "transform": [{"filter": "datum.p=='P4'"}], "mark": {"type": "rule", "strokeWidth": 1.1},
     "encoding": {"x": {"field": "t", "type": "quantitative"}, "color": {"condition": [{"test": "datum.m=='1'", "value": "#9090d0"}, {"test": "datum.m=='4'", "value": "#cf6b6b"}], "value": "#9a9ac8"}}},
    {"data": {"name": "mk"}, "transform": [{"filter": "datum.p=='P4'"}], "mark": {"type": "text", "color": "#5a4a9a", "fontSize": 5.5, "fontWeight": "bold", "align": "center", "baseline": "middle"},
     "encoding": {"x": {"field": "t", "type": "quantitative"}, "y": {"datum": 2471}, "text": {"field": "m"}}},
    {"data": {"values": [{}]}, "mark": {"type": "rule", "color": "#3d9a3d", "strokeDash": [1.5, 1.5], "strokeWidth": 1}, "encoding": {"y": {"datum": 0}}},
    {"data": {"values": [{}]}, "mark": {"type": "text", "text": "<", "color": "#2e8b2e", "fontWeight": "bold", "fontSize": 9, "align": "center", "baseline": "middle"}, "encoding": {"x": {"datum": 0.06}, "y": {"datum": 0}}},
    {"data": {"name": "curves"}, "transform": [{"filter": "datum.p=='P4' && datum.r=='A' && datum.t<=6.75"}], "mark": {"type": "area", "fill": {"expr": "posGrad"}, "fillOpacity": 1},
     "encoding": {"x": {"field": "t", "type": "quantitative"}, "y": {"field": "f", "type": "quantitative"}, "y2": {"datum": 0}}},
    {"data": {"name": "curves"}, "transform": [{"filter": "datum.p=='P4' && datum.r=='A' && datum.t>=6.75"}], "mark": {"type": "area", "fill": {"expr": "negGrad"}, "fillOpacity": 1},
     "encoding": {"x": {"field": "t", "type": "quantitative"}, "y": {"field": "f", "type": "quantitative"}, "y2": {"datum": 0}}},
    {"data": {"values": [{}]}, "mark": {"type": "rule", "color": "#6060b8", "strokeWidth": 1.2, "strokeDash": [2, 1]}, "encoding": {"x": {"datum": 0}, "x2": {"datum": 9.95}, "y": {"datum": 0}}},
    {"data": {"name": "curves"}, "transform": [{"filter": "datum.p=='P4'"}], "mark": {"type": "line", "strokeWidth": 1.2},
     "encoding": {"x": {"field": "t", "type": "quantitative"}, "y": {"field": "f", "type": "quantitative"}, "color": {"field": "r", "type": "nominal", "scale": {"domain": ["A","B","C"], "range": ["#3a3ab8","#4a4a1a","#d83030"]}, "legend": null}}},
    {"data": {"name": "gd"}, "transform": [{"filter": "datum.p=='P4'"}], "mark": {"type": "line", "color": "#444444", "strokeWidth": 0.8, "strokeDash": [1, 1.5]},
     "encoding": {"x": {"field": "t", "type": "quantitative"}, "y": {"field": "f", "type": "quantitative"}, "detail": {"field": "g"}}},
    {"data": {"name": "nt"}, "transform": [{"filter": "datum.p=='P4' && datum.k=='bl'"}], "mark": {"type": "text", "clip": true, "color": "#2222a0", "fontSize": 5, "fontWeight": "bold", "align": "left", "baseline": "middle"},
     "encoding": {"x": {"field": "t", "type": "quantitative"}, "y": {"field": "f", "type": "quantitative"}, "text": {"field": "s"}}},
    {"data": {"name": "nt"}, "transform": [{"filter": "datum.p=='P4' && datum.k=='wos'"}], "mark": {"type": "text", "color": "#3a3a3a", "fontSize": 5.5, "align": "center", "baseline": "middle"},
     "encoding": {"x": {"field": "t", "type": "quantitative"}, "y": {"field": "f", "type": "quantitative"}, "text": {"field": "s"}}},
    {"data": {"name": "nt"}, "transform": [{"filter": "datum.p=='P4' && datum.k=='firm'"}], "mark": {"type": "text", "color": "#555555", "fontSize": 6.5, "align": "left", "baseline": "middle"},
     "encoding": {"x": {"field": "t", "type": "quantitative"}, "y": {"field": "f", "type": "quantitative"}, "text": {"field": "s"}}},
    {"data": {"name": "nt"}, "transform": [{"filter": "datum.p=='P4' && datum.k=='pk'"}], "mark": {"type": "text", "color": "#8c8c8c", "fontSize": 4, "align": "center", "baseline": "middle"},
     "encoding": {"x": {"field": "t", "type": "quantitative"}, "y": {"field": "f", "type": "quantitative"}, "text": {"field": "s"}}}
   ]}
]
}
